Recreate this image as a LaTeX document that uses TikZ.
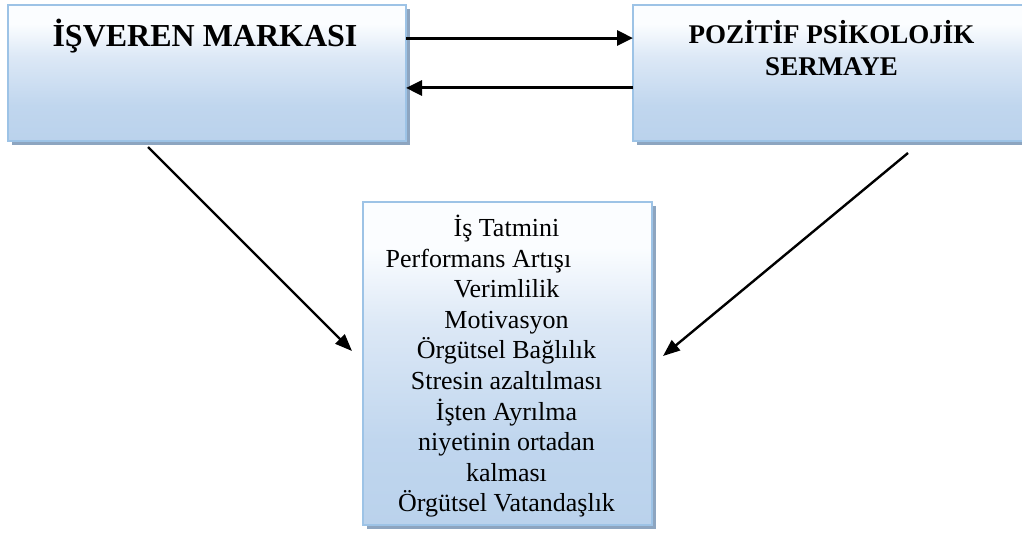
\documentclass[tikz,border=0pt]{standalone}
\usepackage{fontspec}
\setmainfont{Liberation Serif}
\usetikzlibrary{arrows.meta,calc,backgrounds}

\definecolor{boxedge}{HTML}{9DC3E6}
\definecolor{boxshadow}{HTML}{8DA5C0}
\definecolor{boxlow}{HTML}{BAD2EC}
\definecolor{boxlowb}{HTML}{C0D6EE}
\definecolor{boxmid}{HTML}{DCE8F6}
\definecolor{boxtop}{HTML}{FBFDFF}

% soft white-to-blue fill of the boxes (path spans 25bp..75bp)
\pgfdeclareverticalshading{boxfade}{100bp}{%
  color(0bp)=(boxlow); color(25bp)=(boxlow); color(38bp)=(boxlowb);
  color(56bp)=(boxmid); color(68bp)=(boxtop); color(100bp)=(boxtop)}

% centred rows with a fixed baseline distance; the base is the first row
\newcommand{\rowstack}[2]{\vtop{\baselineskip=#1\relax
  \lineskiplimit=-\maxdimen\lineskip=0pt
  \halign{\hfil##\hfil\cr#2\crcr}}}

\tikzset{
  card/.style={rectangle, draw=boxedge, line width=1.6pt, shade,
    shading=boxfade, inner sep=0pt, outer sep=0pt},
  flow/.style={line width=3pt, -{Triangle[length=16pt,width=15pt]}},
  slant/.style={line width=2.4pt, -{Triangle[length=17pt,width=13pt]}},
  headfont/.style={font=\fontsize{32}{38}\selectfont\bfseries},
  subfont/.style={font=\fontsize{27}{32}\selectfont\bfseries},
  listfont/.style={font=\fontsize{26}{30}\selectfont},
}

\begin{document}
\begin{tikzpicture}[x=1pt, y=-1pt]
  \useasboundingbox (0,0) rectangle (1022,538);

  % boxes
  \node[card, minimum width=398pt, minimum height=136pt] (b1) at (207,73) {};
  \node[card, minimum width=397pt, minimum height=136pt] (b2) at (831.5,73) {};
  \node[card, minimum width=289pt, minimum height=323pt] (b3) at (507.5,363.5) {};

  % offset shadows behind the boxes
  \begin{scope}[on background layer]
    \foreach \b in {b1,b2,b3}
      \fill[boxshadow] ($(\b.north west)+(4,4)$) rectangle ($(\b.south east)+(4,4)$);
  \end{scope}

  % labels
  \node[headfont, anchor=base, inner sep=0pt] (t1) at ($(b1.north)+(-2,41.7)$)
    {İŞVEREN MARKASI};
  \node[subfont, anchor=base, inner sep=0pt] (t2) at ($(b2.north)+(0,38.5)$)
    {\rowstack{31.5pt}{POZİTİF PSİKOLOJİK\cr SERMAYE}};
  \node[listfont, anchor=base, inner sep=0pt] (t3) at ($(b3.north)+(-1,34.7)$)
    {\rowstack{30.55pt}{İş Tatmini\cr
      \hbox to 0pt{\hss Performans Artışı\hskip 56pt\hss}\cr
      Verimlilik\cr
      Motivasyon\cr
      Örgütsel Bağlılık\cr
      Stresin azaltılması\cr
      İşten Ayrılma\cr
      niyetinin ortadan\cr
      kalması\cr
      Örgütsel Vatandaşlık}};

  % connectors
  \draw[flow] ($(b1.north east)!0.243!(b1.south east)$)
           -- ($(b2.north west)!0.243!(b2.south west)$);
  \draw[flow] ($(b2.north west)!0.61!(b2.south west)$)
           -- ($(b1.north east)!0.61!(b1.south east)$);
  \draw[slant] ($(b1.south)+(-59,6)$) -- ($(b3.west)+(-11,-12.5)$);
  \draw[slant] ($(b2.south)+(76.5,12)$) -- ($(b3.east)+(11,-7.5)$);
\end{tikzpicture}
\end{document}
